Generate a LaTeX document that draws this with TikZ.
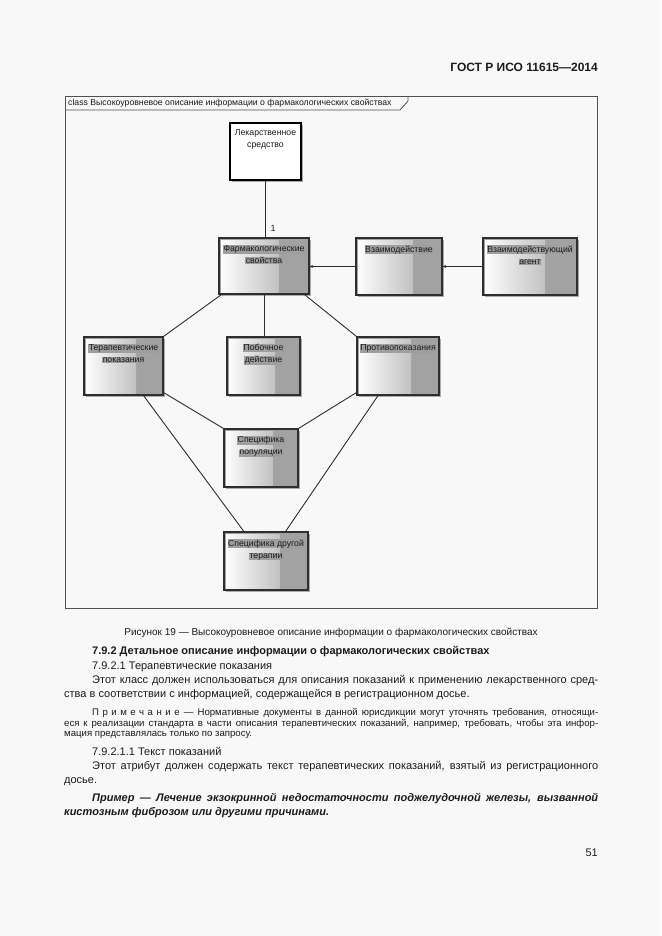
\documentclass[tikz,border=0pt]{standalone}
\usepackage{fontspec}
\setmainfont{Liberation Sans}
\usetikzlibrary{calc,shadows,arrows.meta}
\definecolor{pagebg}{HTML}{F8F8F8}
\definecolor{boxgray}{HTML}{A2A2A2}
\definecolor{edgec}{HTML}{2E2E2E}
\definecolor{hlc}{HTML}{9E9E9E}
\definecolor{ink}{HTML}{1C1C1C}
\definecolor{framec}{HTML}{505050}
\newcommand\fsz[2]{\fontsize{#1}{#2}\selectfont}
\newcommand\boxtxt[3]{\parbox[c][#2][t]{#1}{\centering\vspace*{7pt}#3}}
\newcommand\hlt[1]{{\setlength\fboxsep{0.6pt}\colorbox{hlc}{#1}}}
\tikzset{
  gbox/.style={draw=edgec, line width=1.1pt, fill=boxgray, inner sep=0pt,
    font=\fsz{8.7}{12}, text=ink,
    drop shadow={shadow xshift=1.6pt, shadow yshift=-1.6pt, fill=black!40, opacity=0.8},
    path picture={\shade[left color=white, right color=boxgray]
      ([xshift=2pt,yshift=-2pt]path picture bounding box.north west) rectangle
      ($(path picture bounding box.south west)!0.66!(path picture bounding box.south east)+(0pt,2pt)$);}},
  wbox/.style={draw=black, line width=1.1pt, fill=white, inner sep=0pt,
    font=\fsz{8.7}{12}, text=ink,
    drop shadow={shadow xshift=1.6pt, shadow yshift=-1.6pt, fill=black!40, opacity=0.8}},
  conn/.style={draw=edgec, line width=0.9pt},
  tipconn/.style={conn, -{Stealth[length=3.5pt,width=3pt]}},
  bodytext/.style={anchor=base west, inner sep=0pt, font=\fsz{11}{13}, text=ink},
  notetext/.style={anchor=base west, inner sep=0pt, font=\fsz{9.6}{11}, text=ink},
}
\begin{document}
\begin{tikzpicture}[x=1pt, y=-1pt]
\fill[pagebg] (0,0) rectangle (661,936);
\useasboundingbox (0,0) rectangle (661,936);

% header
\node[anchor=base east, inner sep=0pt, font=\fsz{12}{14}\bfseries, text=ink] (hdr) at (598,72) {ГОСТ Р ИСО 11615—2014};

% frame
\draw[framec, line width=1pt] (65,97) rectangle (597,608);
\draw[framec, line width=0.8pt] (65,110) -- (400,110) -- (408,101) -- (408,97);
\node[anchor=west, inner sep=0pt, font=\fsz{8.7}{10}, text=ink] (tab) at (68,103.5) {class Высокоуровневое описание информации о фармакологических свойствах};

% boxes
\node[wbox] (lek) at (265.5,151.5) {\boxtxt{71pt}{57pt}{Лекарственное\\средство}};
\node[gbox] (farm) at (264,266) {\boxtxt{90pt}{56pt}{\hlt{Фармакологические}\\\hlt{свойства}}};
\node[gbox] (vz) at (399,266.5) {\boxtxt{86pt}{57pt}{\hlt{Взаимодействие}}};
\node[gbox] (agent) at (530,266.5) {\boxtxt{94pt}{57pt}{\hlt{Взаимодействующий}\\\hlt{агент}}};
\node[gbox] (ter) at (123.5,366) {\boxtxt{79pt}{58pt}{\hlt{Терапевтические}\\\hlt{показания}}};
\node[gbox] (pob) at (263.5,366) {\boxtxt{73pt}{58pt}{\hlt{Побочное}\\\hlt{действие}}};
\node[gbox] (prot) at (398,366) {\boxtxt{82pt}{58pt}{\hlt{Противопоказания}}};
\node[gbox] (spop) at (261,458) {\boxtxt{74pt}{58pt}{\hlt{Специфика}\\\hlt{популяции}}};
\node[gbox] (sdr) at (266,561) {\boxtxt{84pt}{58pt}{\hlt{Специфика другой}\\\hlt{терапии}}};

% connectors
\draw[conn] (lek.south) -- (lek.south |- farm.north);
\node[anchor=center, inner sep=0pt, font=\fsz{9}{10}, text=ink] (one) at (273,228) {1};
\draw[tipconn] (vz.west) -- (vz.west -| farm.east);
\draw[tipconn] (agent.west) -- (agent.west -| vz.east);
\draw[conn] ($(farm.south west)+(3pt,0pt)$) -- (ter.north east);
\draw[conn] (farm.south) -- (farm.south |- pob.north);
\draw[conn] ($(farm.south east)+(-5pt,0pt)$) -- (prot.north west);
\draw[conn] ($(ter.south east)+(0pt,3pt)$) -- (spop.north west);
\draw[conn] ($(ter.south west)!0.75!(ter.south east)$) -- ($(sdr.north west)!0.24!(sdr.north east)$);
\draw[conn] ($(prot.south west)+(0pt,3pt)$) -- (spop.north east);
\draw[conn] ($(prot.south west)!0.26!(prot.south east)$) -- ($(sdr.north west)!0.73!(sdr.north east)$);

% caption and body text
\node[anchor=base, inner sep=0pt, font=\fsz{10}{12}, text=ink] (cap) at (331,635) {Рисунок 19 — Высокоуровневое описание информации о фармакологических свойствах};
\node[bodytext, font=\fsz{11}{13}\bfseries] (h792) at (92,654) {7.9.2 Детальное описание информации о фармакологических свойствах};
\node[bodytext] (h7921) at (92,669) {7.9.2.1 Терапевтические показания};
\node[bodytext] (p1a) at (92,683) {\makebox[506pt][s]{Этот класс должен использоваться для описания показаний к применению лекарственного сред-}};
\node[bodytext] (p1b) at (64,697) {ства в соответствии с информацией, содержащейся в регистрационном досье.};
\node[notetext] (n1) at (92,715.5) {\makebox[506pt][s]{П\kern3.5pt р\kern3.5pt и\kern3.5pt м\kern3.5pt е\kern3.5pt ч\kern3.5pt а\kern3.5pt н\kern3.5pt и\kern3.5pt е — Нормативные документы в данной юрисдикции могут уточнять требования, относящи-}};
\node[notetext] (n2) at (64,726) {\makebox[534pt][s]{еся к реализации стандарта в части описания терапевтических показаний, например, требовать, чтобы эта инфор-}};
\node[notetext] (n3) at (64,736.5) {мация представлялась только по запросу.};
\node[bodytext] (h79211) at (92,755) {7.9.2.1.1 Текст показаний};
\node[bodytext] (p2a) at (92,769) {\makebox[506pt][s]{Этот атрибут должен содержать текст терапевтических показаний, взятый из регистрационного}};
\node[bodytext] (p2b) at (64,783) {досье.};
\node[bodytext, font=\fsz{11}{13}\bfseries\itshape] (ex1) at (92,801) {\makebox[506pt][s]{Пример — Лечение экзокринной недостаточности поджелудочной железы, вызванной}};
\node[bodytext, font=\fsz{11}{13}\bfseries\itshape] (ex2) at (64,815) {кистозным фиброзом или другими причинами.};
\node[anchor=base east, inner sep=0pt, font=\fsz{11}{13}, text=ink] (pg) at (598,856) {51};
\end{tikzpicture}
\end{document}
